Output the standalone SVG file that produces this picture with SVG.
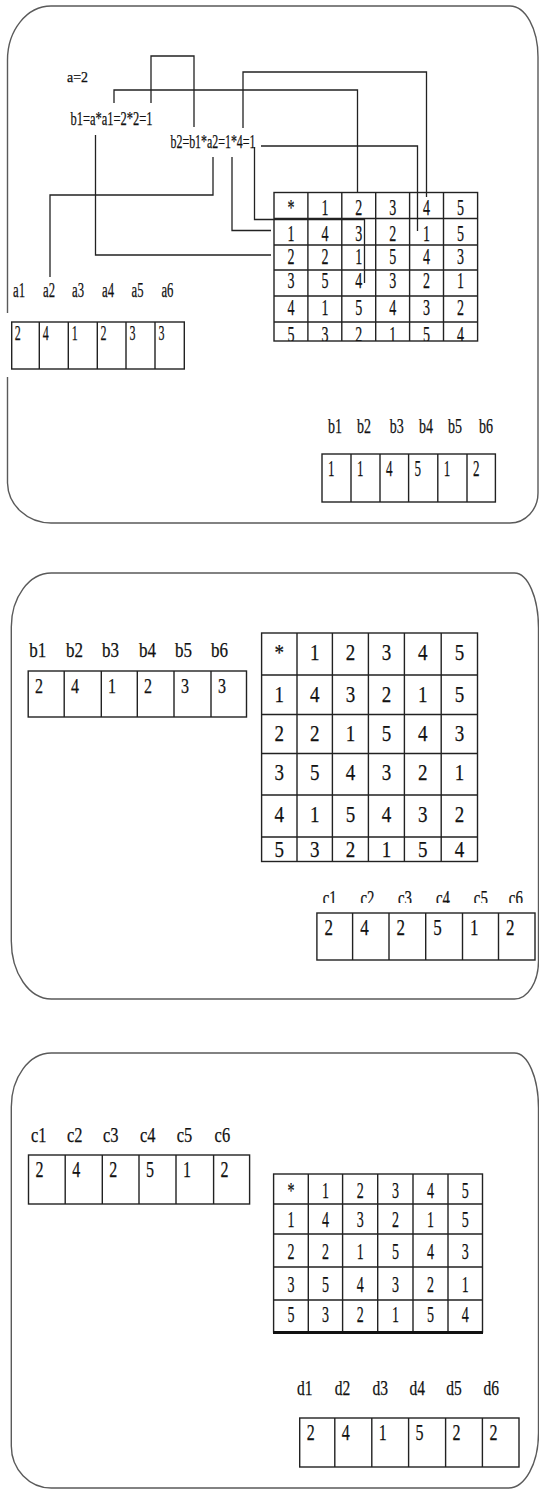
<svg xmlns="http://www.w3.org/2000/svg" width="539" height="1490" viewBox="0 0 539 1490">
<defs>
<style>
.panel{fill:none;stroke:#5a5a5a;stroke-width:1.4}
.grid{fill:none;stroke:#222;stroke-width:1.4}
.bold{fill:none;stroke:#111;stroke-width:3}
.conn{fill:none;stroke:#222;stroke-width:1.3}
text{font-family:"Liberation Serif","Times New Roman",serif;fill:#111;stroke:#111;stroke-width:0.25}
.c{text-anchor:middle}
.f15{font-size:15px}.f18{font-size:18px}.f19{font-size:20px}.f20{font-size:21px}.f21{font-size:23px}.f22{font-size:24px}
</style>
<clipPath id="clipT1"><rect x="270" y="320" width="212" height="21"/></clipPath>
<clipPath id="clipC"><rect x="300" y="880" width="239" height="23"/></clipPath>
</defs>
<rect width="539" height="1490" fill="#fff"/>

<!-- Panel 1 -->
<g id="panel1">
<path class="panel" d="M7.5,377 V483 A43.5 41 0 0 0 51,523 H510 A28 30 0 0 0 538,493 V57 A28 51 0 0 0 510,6 H51 A43.5 54 0 0 0 7.5,60 V313"/>
</g>
<g id="formula-a">
<text class="f15" x="67" y="82" textLength="21" lengthAdjust="spacingAndGlyphs">a=2</text>
</g>
<g id="formula-b1">
<text class="f18" x="70.5" y="125" textLength="82" lengthAdjust="spacingAndGlyphs">b1=a*a1=2*2=1</text>
</g>
<g id="formula-b2">
<text class="f18" x="170.5" y="148" textLength="85" lengthAdjust="spacingAndGlyphs">b2=b1*a2=1*4=1</text>
</g>

<g id="connectors">
<path class="conn" d="M151,103 V56 H194 V127"/>
<path class="conn" d="M114,103 V90 H357.5 V192.5"/>
<path class="conn" d="M254.5,147 V219.5 H364.5 V283"/>
<path class="conn" d="M232,157 V230.5 H271"/>
<path class="conn" d="M213,157 V195 H50 V277"/>
<path class="conn" d="M95.5,135 V255 H271"/>
<path class="conn" d="M261,146 H417.5 V231"/>
<path class="conn" d="M243,128 V72 H426.5 V197"/>
</g>

<g id="array-a">
<g class="f19">
<text x="13" y="297" textLength="12" lengthAdjust="spacingAndGlyphs">a1</text>
<text x="43" y="297" textLength="12" lengthAdjust="spacingAndGlyphs">a2</text>
<text x="72" y="297" textLength="12" lengthAdjust="spacingAndGlyphs">a3</text>
<text x="102" y="297" textLength="12" lengthAdjust="spacingAndGlyphs">a4</text>
<text x="131.5" y="297" textLength="12" lengthAdjust="spacingAndGlyphs">a5</text>
<text x="161.4" y="297" textLength="12" lengthAdjust="spacingAndGlyphs">a6</text>
</g>
<rect class="grid" x="11.7" y="322" width="172.6" height="47"/>
<path class="grid" d="M39.3,322 V369 M68.3,322 V369 M97.3,322 V369 M126,322 V369 M155,322 V369"/>
<g class="f20">
<text x="14.7" y="340" textLength="6" lengthAdjust="spacingAndGlyphs">2</text>
<text x="42.8" y="340" textLength="6" lengthAdjust="spacingAndGlyphs">4</text>
<text x="71.8" y="340" textLength="6" lengthAdjust="spacingAndGlyphs">1</text>
<text x="100.5" y="340" textLength="6" lengthAdjust="spacingAndGlyphs">2</text>
<text x="129.5" y="340" textLength="6" lengthAdjust="spacingAndGlyphs">3</text>
<text x="158.5" y="340" textLength="6" lengthAdjust="spacingAndGlyphs">3</text>
</g>
</g>

<g id="table1">
<rect class="grid" x="274" y="192.5" width="203.6" height="148.5"/>
<path class="grid" d="M307.9,192.5 V341 M341.8,192.5 V341 M375.7,192.5 V341 M409.6,192.5 V341 M443.5,192.5 V341 M274,218.5 H477.6 M274,245 H477.6 M274,270 H477.6 M274,296 H477.6 M274,322 H477.6"/>
<g class="f21 c">
<text x="291" y="215" textLength="7" lengthAdjust="spacingAndGlyphs">*</text>
<text x="324.9" y="215" textLength="7" lengthAdjust="spacingAndGlyphs">1</text>
<text x="358.8" y="215" textLength="7" lengthAdjust="spacingAndGlyphs">2</text>
<text x="392.7" y="215" textLength="7" lengthAdjust="spacingAndGlyphs">3</text>
<text x="426.6" y="215" textLength="7" lengthAdjust="spacingAndGlyphs">4</text>
<text x="460.5" y="215" textLength="7" lengthAdjust="spacingAndGlyphs">5</text>
<text x="291" y="241" textLength="7" lengthAdjust="spacingAndGlyphs">1</text>
<text x="324.9" y="241" textLength="7" lengthAdjust="spacingAndGlyphs">4</text>
<text x="358.8" y="241" textLength="7" lengthAdjust="spacingAndGlyphs">3</text>
<text x="392.7" y="241" textLength="7" lengthAdjust="spacingAndGlyphs">2</text>
<text x="426.6" y="241" textLength="7" lengthAdjust="spacingAndGlyphs">1</text>
<text x="460.5" y="241" textLength="7" lengthAdjust="spacingAndGlyphs">5</text>
<text x="291" y="264" textLength="7" lengthAdjust="spacingAndGlyphs">2</text>
<text x="324.9" y="264" textLength="7" lengthAdjust="spacingAndGlyphs">2</text>
<text x="358.8" y="264" textLength="7" lengthAdjust="spacingAndGlyphs">1</text>
<text x="392.7" y="264" textLength="7" lengthAdjust="spacingAndGlyphs">5</text>
<text x="426.6" y="264" textLength="7" lengthAdjust="spacingAndGlyphs">4</text>
<text x="460.5" y="264" textLength="7" lengthAdjust="spacingAndGlyphs">3</text>
<text x="291" y="288" textLength="7" lengthAdjust="spacingAndGlyphs">3</text>
<text x="324.9" y="288" textLength="7" lengthAdjust="spacingAndGlyphs">5</text>
<text x="358.8" y="288" textLength="7" lengthAdjust="spacingAndGlyphs">4</text>
<text x="392.7" y="288" textLength="7" lengthAdjust="spacingAndGlyphs">3</text>
<text x="426.6" y="288" textLength="7" lengthAdjust="spacingAndGlyphs">2</text>
<text x="460.5" y="288" textLength="7" lengthAdjust="spacingAndGlyphs">1</text>
<text x="291" y="315" textLength="7" lengthAdjust="spacingAndGlyphs">4</text>
<text x="324.9" y="315" textLength="7" lengthAdjust="spacingAndGlyphs">1</text>
<text x="358.8" y="315" textLength="7" lengthAdjust="spacingAndGlyphs">5</text>
<text x="392.7" y="315" textLength="7" lengthAdjust="spacingAndGlyphs">4</text>
<text x="426.6" y="315" textLength="7" lengthAdjust="spacingAndGlyphs">3</text>
<text x="460.5" y="315" textLength="7" lengthAdjust="spacingAndGlyphs">2</text>
<g clip-path="url(#clipT1)">
<text x="291" y="342" textLength="7" lengthAdjust="spacingAndGlyphs">5</text>
<text x="324.9" y="342" textLength="7" lengthAdjust="spacingAndGlyphs">3</text>
<text x="358.8" y="342" textLength="7" lengthAdjust="spacingAndGlyphs">2</text>
<text x="392.7" y="342" textLength="7" lengthAdjust="spacingAndGlyphs">1</text>
<text x="426.6" y="342" textLength="7" lengthAdjust="spacingAndGlyphs">5</text>
<text x="460.5" y="342" textLength="7" lengthAdjust="spacingAndGlyphs">4</text>
</g>
</g>
</g>

<g id="array-b1">
<g class="f19">
<text x="328" y="433" textLength="14" lengthAdjust="spacingAndGlyphs">b1</text>
<text x="357" y="433" textLength="14" lengthAdjust="spacingAndGlyphs">b2</text>
<text x="389.7" y="433" textLength="14" lengthAdjust="spacingAndGlyphs">b3</text>
<text x="419" y="433" textLength="14" lengthAdjust="spacingAndGlyphs">b4</text>
<text x="448" y="433" textLength="14" lengthAdjust="spacingAndGlyphs">b5</text>
<text x="479" y="433" textLength="14" lengthAdjust="spacingAndGlyphs">b6</text>
</g>
<rect class="grid" x="322" y="454" width="173.4" height="48"/>
<path class="grid" d="M351,454 V502 M380,454 V502 M408.6,454 V502 M437.8,454 V502 M467,454 V502"/>
<g class="f21">
<text x="328" y="476" textLength="6.5" lengthAdjust="spacingAndGlyphs">1</text>
<text x="357" y="476" textLength="6.5" lengthAdjust="spacingAndGlyphs">1</text>
<text x="386" y="476" textLength="6.5" lengthAdjust="spacingAndGlyphs">4</text>
<text x="414.6" y="476" textLength="6.5" lengthAdjust="spacingAndGlyphs">5</text>
<text x="443.8" y="476" textLength="6.5" lengthAdjust="spacingAndGlyphs">1</text>
<text x="473" y="476" textLength="6.5" lengthAdjust="spacingAndGlyphs">2</text>
</g>
</g>

<!-- Panel 2 -->
<g id="panel2">
<path class="panel" d="M11.3,627 A40 54 0 0 1 51.3,573 H514.5 A24 55 0 0 1 538.5,628 V961 A24 38 0 0 1 514.5,999 H51.3 A40 58 0 0 1 11.3,941 Z"/>
</g>

<g id="array-b2">
<g class="f20">
<text x="29.2" y="657" textLength="17" lengthAdjust="spacingAndGlyphs">b1</text>
<text x="65.9" y="657" textLength="17" lengthAdjust="spacingAndGlyphs">b2</text>
<text x="102" y="657" textLength="17" lengthAdjust="spacingAndGlyphs">b3</text>
<text x="139" y="657" textLength="17" lengthAdjust="spacingAndGlyphs">b4</text>
<text x="175" y="657" textLength="17" lengthAdjust="spacingAndGlyphs">b5</text>
<text x="211" y="657" textLength="17" lengthAdjust="spacingAndGlyphs">b6</text>
</g>
<rect class="grid" x="28.2" y="671" width="218.3" height="46"/>
<path class="grid" d="M64.2,671 V717 M101.3,671 V717 M137.3,671 V717 M174,671 V717 M211,671 V717"/>
<g class="f20">
<text x="35" y="693" textLength="8" lengthAdjust="spacingAndGlyphs">2</text>
<text x="71" y="693" textLength="8" lengthAdjust="spacingAndGlyphs">4</text>
<text x="108" y="693" textLength="8" lengthAdjust="spacingAndGlyphs">1</text>
<text x="144" y="693" textLength="8" lengthAdjust="spacingAndGlyphs">2</text>
<text x="181" y="693" textLength="8" lengthAdjust="spacingAndGlyphs">3</text>
<text x="218" y="693" textLength="8" lengthAdjust="spacingAndGlyphs">3</text>
</g>
</g>

<g id="table2">
<rect class="grid" x="261.6" y="633" width="215.9" height="228.5"/>
<path class="grid" d="M297,633 V861.5 M332.4,633 V861.5 M368.4,633 V861.5 M404.4,633 V861.5 M441.2,633 V861.5 M261.6,675 H477.5 M261.6,714.5 H477.5 M261.6,753.5 H477.5 M261.6,795 H477.5 M261.6,837 H477.5"/>
<g class="f22 c">
<text x="279.3" y="660" textLength="9.5" lengthAdjust="spacingAndGlyphs">*</text>
<text x="314.7" y="660" textLength="9.5" lengthAdjust="spacingAndGlyphs">1</text>
<text x="350.4" y="660" textLength="9.5" lengthAdjust="spacingAndGlyphs">2</text>
<text x="386.4" y="660" textLength="9.5" lengthAdjust="spacingAndGlyphs">3</text>
<text x="422.8" y="660" textLength="9.5" lengthAdjust="spacingAndGlyphs">4</text>
<text x="459.4" y="660" textLength="9.5" lengthAdjust="spacingAndGlyphs">5</text>
<text x="279.3" y="702" textLength="9.5" lengthAdjust="spacingAndGlyphs">1</text>
<text x="314.7" y="702" textLength="9.5" lengthAdjust="spacingAndGlyphs">4</text>
<text x="350.4" y="702" textLength="9.5" lengthAdjust="spacingAndGlyphs">3</text>
<text x="386.4" y="702" textLength="9.5" lengthAdjust="spacingAndGlyphs">2</text>
<text x="422.8" y="702" textLength="9.5" lengthAdjust="spacingAndGlyphs">1</text>
<text x="459.4" y="702" textLength="9.5" lengthAdjust="spacingAndGlyphs">5</text>
<text x="279.3" y="741" textLength="9.5" lengthAdjust="spacingAndGlyphs">2</text>
<text x="314.7" y="741" textLength="9.5" lengthAdjust="spacingAndGlyphs">2</text>
<text x="350.4" y="741" textLength="9.5" lengthAdjust="spacingAndGlyphs">1</text>
<text x="386.4" y="741" textLength="9.5" lengthAdjust="spacingAndGlyphs">5</text>
<text x="422.8" y="741" textLength="9.5" lengthAdjust="spacingAndGlyphs">4</text>
<text x="459.4" y="741" textLength="9.5" lengthAdjust="spacingAndGlyphs">3</text>
<text x="279.3" y="780" textLength="9.5" lengthAdjust="spacingAndGlyphs">3</text>
<text x="314.7" y="780" textLength="9.5" lengthAdjust="spacingAndGlyphs">5</text>
<text x="350.4" y="780" textLength="9.5" lengthAdjust="spacingAndGlyphs">4</text>
<text x="386.4" y="780" textLength="9.5" lengthAdjust="spacingAndGlyphs">3</text>
<text x="422.8" y="780" textLength="9.5" lengthAdjust="spacingAndGlyphs">2</text>
<text x="459.4" y="780" textLength="9.5" lengthAdjust="spacingAndGlyphs">1</text>
<text x="279.3" y="822" textLength="9.5" lengthAdjust="spacingAndGlyphs">4</text>
<text x="314.7" y="822" textLength="9.5" lengthAdjust="spacingAndGlyphs">1</text>
<text x="350.4" y="822" textLength="9.5" lengthAdjust="spacingAndGlyphs">5</text>
<text x="386.4" y="822" textLength="9.5" lengthAdjust="spacingAndGlyphs">4</text>
<text x="422.8" y="822" textLength="9.5" lengthAdjust="spacingAndGlyphs">3</text>
<text x="459.4" y="822" textLength="9.5" lengthAdjust="spacingAndGlyphs">2</text>
<text x="279.3" y="857" textLength="9.5" lengthAdjust="spacingAndGlyphs">5</text>
<text x="314.7" y="857" textLength="9.5" lengthAdjust="spacingAndGlyphs">3</text>
<text x="350.4" y="857" textLength="9.5" lengthAdjust="spacingAndGlyphs">2</text>
<text x="386.4" y="857" textLength="9.5" lengthAdjust="spacingAndGlyphs">1</text>
<text x="422.8" y="857" textLength="9.5" lengthAdjust="spacingAndGlyphs">5</text>
<text x="459.4" y="857" textLength="9.5" lengthAdjust="spacingAndGlyphs">4</text>
</g>
</g>

<g id="array-c1">
<g class="f20" clip-path="url(#clipC)">
<text x="322.7" y="905" textLength="14" lengthAdjust="spacingAndGlyphs">c1</text>
<text x="360.5" y="905" textLength="14" lengthAdjust="spacingAndGlyphs">c2</text>
<text x="398" y="905" textLength="14" lengthAdjust="spacingAndGlyphs">c3</text>
<text x="436" y="905" textLength="14" lengthAdjust="spacingAndGlyphs">c4</text>
<text x="473.8" y="905" textLength="14" lengthAdjust="spacingAndGlyphs">c5</text>
<text x="508.8" y="905" textLength="14" lengthAdjust="spacingAndGlyphs">c6</text>
</g>
<rect class="grid" x="316.9" y="913" width="218.1" height="47"/>
<path class="grid" d="M352.6,913 V960 M389,913 V960 M425.7,913 V960 M462.5,913 V960 M498.5,913 V960"/>
<g class="f22">
<text x="324.5" y="935" textLength="8.5" lengthAdjust="spacingAndGlyphs">2</text>
<text x="360.2" y="935" textLength="8.5" lengthAdjust="spacingAndGlyphs">4</text>
<text x="396.6" y="935" textLength="8.5" lengthAdjust="spacingAndGlyphs">2</text>
<text x="433.3" y="935" textLength="8.5" lengthAdjust="spacingAndGlyphs">5</text>
<text x="470.1" y="935" textLength="8.5" lengthAdjust="spacingAndGlyphs">1</text>
<text x="506.1" y="935" textLength="8.5" lengthAdjust="spacingAndGlyphs">2</text>
</g>
</g>

<!-- Panel 3 -->
<g id="panel3">
<path class="panel" d="M11.3,1107 A40 54 0 0 1 51.3,1053 H514.5 A24 55 0 0 1 538.5,1108 V1433 A30 55 0 0 1 508.5,1488 H51.3 A40 42 0 0 1 11.3,1446 Z"/>
</g>

<g id="array-c2">
<g class="f20">
<text x="30.9" y="1142" textLength="15.5" lengthAdjust="spacingAndGlyphs">c1</text>
<text x="67" y="1142" textLength="15.5" lengthAdjust="spacingAndGlyphs">c2</text>
<text x="103" y="1142" textLength="15.5" lengthAdjust="spacingAndGlyphs">c3</text>
<text x="140" y="1142" textLength="15.5" lengthAdjust="spacingAndGlyphs">c4</text>
<text x="176.8" y="1142" textLength="15.5" lengthAdjust="spacingAndGlyphs">c5</text>
<text x="214.6" y="1142" textLength="15.5" lengthAdjust="spacingAndGlyphs">c6</text>
</g>
<rect class="grid" x="28.5" y="1155" width="221.1" height="49"/>
<path class="grid" d="M65.2,1155 V1204 M102.3,1155 V1204 M139,1155 V1204 M176,1155 V1204 M213.6,1155 V1204"/>
<g class="f22">
<text x="35.5" y="1177" textLength="8" lengthAdjust="spacingAndGlyphs">2</text>
<text x="72.2" y="1177" textLength="8" lengthAdjust="spacingAndGlyphs">4</text>
<text x="109.3" y="1177" textLength="8" lengthAdjust="spacingAndGlyphs">2</text>
<text x="146" y="1177" textLength="8" lengthAdjust="spacingAndGlyphs">5</text>
<text x="183" y="1177" textLength="8" lengthAdjust="spacingAndGlyphs">1</text>
<text x="220.6" y="1177" textLength="8" lengthAdjust="spacingAndGlyphs">2</text>
</g>
</g>

<g id="table3">
<rect class="grid" x="273.6" y="1174" width="208.9" height="158"/>
<path class="grid" d="M308.3,1174 V1332 M342.6,1174 V1332 M377.7,1174 V1332 M413,1174 V1332 M448,1174 V1332 M273.6,1204 H482.5 M273.6,1234 H482.5 M273.6,1267 H482.5 M273.6,1300 H482.5"/>
<path class="bold" d="M273,1332.5 H483"/>
<g class="f21 c">
<text x="291" y="1198" textLength="7" lengthAdjust="spacingAndGlyphs">*</text>
<text x="325.5" y="1198" textLength="7" lengthAdjust="spacingAndGlyphs">1</text>
<text x="360.2" y="1198" textLength="7" lengthAdjust="spacingAndGlyphs">2</text>
<text x="395.4" y="1198" textLength="7" lengthAdjust="spacingAndGlyphs">3</text>
<text x="430.5" y="1198" textLength="7" lengthAdjust="spacingAndGlyphs">4</text>
<text x="465.3" y="1198" textLength="7" lengthAdjust="spacingAndGlyphs">5</text>
<text x="291" y="1227" textLength="7" lengthAdjust="spacingAndGlyphs">1</text>
<text x="325.5" y="1227" textLength="7" lengthAdjust="spacingAndGlyphs">4</text>
<text x="360.2" y="1227" textLength="7" lengthAdjust="spacingAndGlyphs">3</text>
<text x="395.4" y="1227" textLength="7" lengthAdjust="spacingAndGlyphs">2</text>
<text x="430.5" y="1227" textLength="7" lengthAdjust="spacingAndGlyphs">1</text>
<text x="465.3" y="1227" textLength="7" lengthAdjust="spacingAndGlyphs">5</text>
<text x="291" y="1259" textLength="7" lengthAdjust="spacingAndGlyphs">2</text>
<text x="325.5" y="1259" textLength="7" lengthAdjust="spacingAndGlyphs">2</text>
<text x="360.2" y="1259" textLength="7" lengthAdjust="spacingAndGlyphs">1</text>
<text x="395.4" y="1259" textLength="7" lengthAdjust="spacingAndGlyphs">5</text>
<text x="430.5" y="1259" textLength="7" lengthAdjust="spacingAndGlyphs">4</text>
<text x="465.3" y="1259" textLength="7" lengthAdjust="spacingAndGlyphs">3</text>
<text x="291" y="1292" textLength="7" lengthAdjust="spacingAndGlyphs">3</text>
<text x="325.5" y="1292" textLength="7" lengthAdjust="spacingAndGlyphs">5</text>
<text x="360.2" y="1292" textLength="7" lengthAdjust="spacingAndGlyphs">4</text>
<text x="395.4" y="1292" textLength="7" lengthAdjust="spacingAndGlyphs">3</text>
<text x="430.5" y="1292" textLength="7" lengthAdjust="spacingAndGlyphs">2</text>
<text x="465.3" y="1292" textLength="7" lengthAdjust="spacingAndGlyphs">1</text>
<text x="291" y="1322" textLength="7" lengthAdjust="spacingAndGlyphs">5</text>
<text x="325.5" y="1322" textLength="7" lengthAdjust="spacingAndGlyphs">3</text>
<text x="360.2" y="1322" textLength="7" lengthAdjust="spacingAndGlyphs">2</text>
<text x="395.4" y="1322" textLength="7" lengthAdjust="spacingAndGlyphs">1</text>
<text x="430.5" y="1322" textLength="7" lengthAdjust="spacingAndGlyphs">5</text>
<text x="465.3" y="1322" textLength="7" lengthAdjust="spacingAndGlyphs">4</text>
</g>
</g>

<g id="array-d">
<g class="f20">
<text x="297" y="1395" textLength="15.5" lengthAdjust="spacingAndGlyphs">d1</text>
<text x="334.8" y="1395" textLength="15.5" lengthAdjust="spacingAndGlyphs">d2</text>
<text x="372.5" y="1395" textLength="15.5" lengthAdjust="spacingAndGlyphs">d3</text>
<text x="409.6" y="1395" textLength="15.5" lengthAdjust="spacingAndGlyphs">d4</text>
<text x="446.3" y="1395" textLength="15.5" lengthAdjust="spacingAndGlyphs">d5</text>
<text x="483.4" y="1395" textLength="15.5" lengthAdjust="spacingAndGlyphs">d6</text>
</g>
<rect class="grid" x="299.7" y="1418" width="219.3" height="49"/>
<path class="grid" d="M334.8,1418 V1467 M371.8,1418 V1467 M408.6,1418 V1467 M445.6,1418 V1467 M482.4,1418 V1467"/>
<g class="f22">
<text x="306.7" y="1440" textLength="8" lengthAdjust="spacingAndGlyphs">2</text>
<text x="341.8" y="1440" textLength="8" lengthAdjust="spacingAndGlyphs">4</text>
<text x="378.8" y="1440" textLength="8" lengthAdjust="spacingAndGlyphs">1</text>
<text x="415.6" y="1440" textLength="8" lengthAdjust="spacingAndGlyphs">5</text>
<text x="452.6" y="1440" textLength="8" lengthAdjust="spacingAndGlyphs">2</text>
<text x="489.4" y="1440" textLength="8" lengthAdjust="spacingAndGlyphs">2</text>
</g>
</g>
</svg>
